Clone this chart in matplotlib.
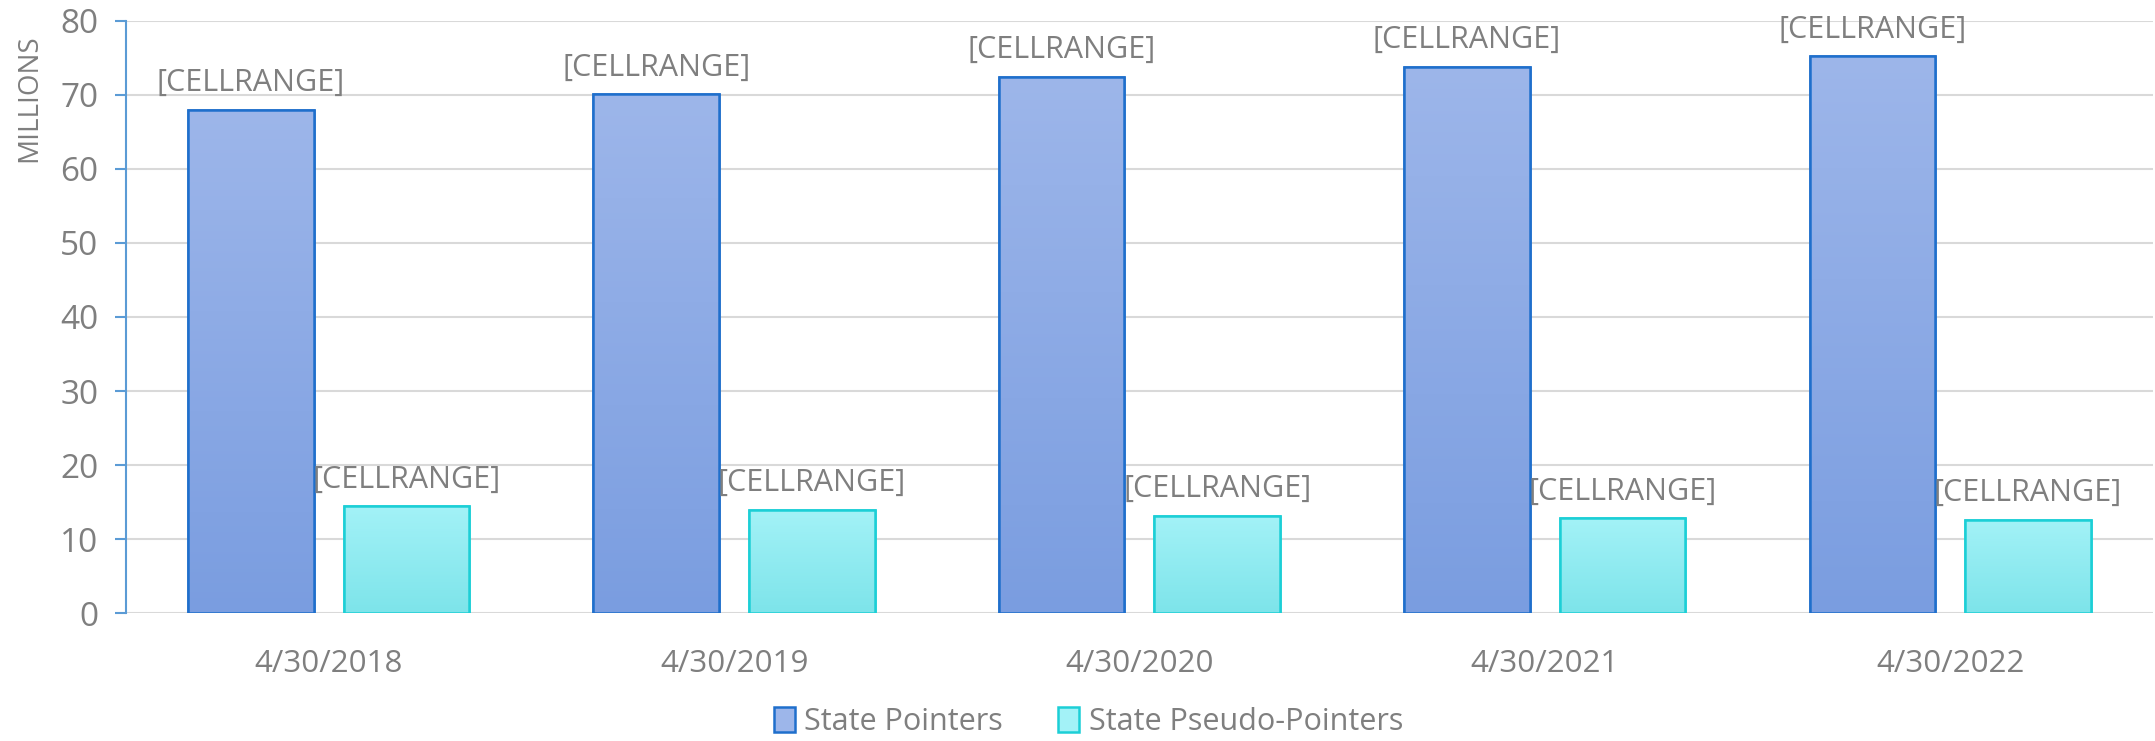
import numpy as np
import matplotlib
matplotlib.use('Agg')
import matplotlib.pyplot as plt
from matplotlib.patches import Patch
from matplotlib.colors import LinearSegmentedColormap

# -----------------------------
# data
# -----------------------------
dates = ['4/30/2018', '4/30/2019', '4/30/2020', '4/30/2021', '4/30/2022']
state_pointers = [68.0, 70.1, 72.4, 73.8, 75.2]
pseudo_pointers = [14.4, 13.9, 13.1, 12.8, 12.6]
series_names = ['State Pointers', 'State Pseudo-Pointers']
label_text = '[CELLRANGE]'

plt.rcParams['font.family'] = ['Open Sans', 'DejaVu Sans']
txt_color = '#7f7f7f'

fig = plt.figure(figsize=(21.55, 7.41), dpi=100)
ax = fig.add_axes([0.0585, 0.1727, 0.9405, 0.799])

x = np.arange(len(dates))
w = 0.31
off = 0.192

styles = [
    dict(top='#9db6ea', bottom='#7a9de0', edge='#1f6fcc'),
    dict(top='#a3f2f7', bottom='#7de4ea', edge='#1ccfd6'),
]


def gradient_bars(xs, vals, st):
    bars = ax.bar(xs, vals, w, color=st['bottom'], edgecolor=st['edge'],
                  linewidth=1.8, zorder=3)
    grad = np.linspace(0, 1, 256).reshape(-1, 1)
    cmap = LinearSegmentedColormap.from_list('g', [st['bottom'], st['top']])
    for b in bars:
        x0, y0 = b.get_x(), b.get_y()
        im = ax.imshow(grad, cmap=cmap, origin='lower', aspect='auto',
                       extent=[x0, x0 + b.get_width(), y0, y0 + b.get_height()],
                       zorder=3.5)
        im.set_clip_path(b)
    # edges again on top of the gradient
    ax.bar(xs, vals, w, fill=False, edgecolor=st['edge'], linewidth=1.8, zorder=4)
    for xi, v in zip(xs, vals):
        ax.text(xi, v + 1.6, label_text, ha='center', va='bottom',
                fontsize=22, color=txt_color, zorder=5)


gradient_bars(x - off, state_pointers, styles[0])
gradient_bars(x + off, pseudo_pointers, styles[1])

ax.set_xlim(-0.5, len(dates) - 0.5)
ax.set_ylim(0, 80)
ax.set_yticks(range(0, 81, 10))
ax.set_xticks(x)
ax.set_xticklabels(dates)
ax.grid(axis='y', color='#d9d9d9', linewidth=1.5, zorder=0)
ax.set_axisbelow(True)

for s in ['top', 'right', 'bottom']:
    ax.spines[s].set_visible(False)
ax.spines['left'].set_color('#5b9bd5')
ax.spines['left'].set_linewidth(1.5)
ax.tick_params(axis='y', colors='#5b9bd5', length=8, width=1.5,
               labelcolor=txt_color, labelsize=24, pad=12)
ax.tick_params(axis='x', length=0, labelcolor=txt_color, labelsize=22.5, pad=26)

fig.text(0.0135, 0.868, 'MILLIONS', rotation=90, ha='center', va='center',
         fontsize=20, color=txt_color)

handles = [Patch(facecolor=styles[0]['top'], edgecolor=styles[0]['edge'], linewidth=1.8),
           Patch(facecolor=styles[1]['top'], edgecolor=styles[1]['edge'], linewidth=1.8)]
fig.legend(handles, series_names, loc='center', bbox_to_anchor=(0.505, 0.026),
           ncol=2, frameon=False, fontsize=22, labelcolor=txt_color,
           handlelength=0.7, handleheight=0.9, handletextpad=0.3, columnspacing=1.8)

fig.savefig('out.png', dpi=100)
